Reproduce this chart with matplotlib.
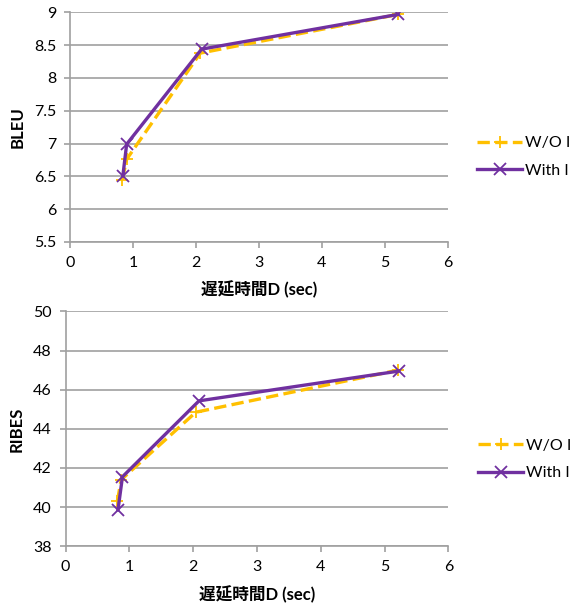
import matplotlib.pyplot as plt

plt.rcParams['font.family'] = ['Lato', 'Noto Sans CJK JP', 'DejaVu Sans']

# BLEU vs delay
bleu_wo_x = [0.83, 0.90, 2.07, 5.21]
bleu_wo_y = [6.45, 6.76, 8.38, 8.97]
bleu_w_x = [0.84, 0.90, 2.09, 5.21]
bleu_w_y = [6.51, 6.99, 8.44, 8.97]

# RIBES vs delay
ribes_wo_x = [0.81, 0.87, 2.04, 5.21]
ribes_wo_y = [40.3, 41.4, 44.85, 47.0]
ribes_w_x = [0.82, 0.89, 2.09, 5.22]
ribes_w_y = [39.86, 41.55, 45.43, 46.95]

yellow = '#FFC000'
purple = '#7030A0'
grey = '#A0A0A0'

fig = plt.figure(figsize=(5.76, 6.07), dpi=100)
ax1 = fig.add_axes([0.1215, 0.6015, 0.656, 0.378])
ax2 = fig.add_axes([0.114, 0.1000, 0.6646, 0.387])


def style(ax, ylabel, ylim, yticks, yfmt):
    ax.set_xlim(0, 6)
    ax.set_ylim(*ylim)
    ax.set_xticks(range(0, 7))
    ax.set_yticks(yticks)
    ax.set_yticklabels([yfmt(v) for v in yticks])
    ax.grid(axis='y', color=grey, linewidth=1.2)
    ax.set_axisbelow(True)
    for s in ['top', 'right']:
        ax.spines[s].set_visible(False)
    for s in ['left', 'bottom']:
        ax.spines[s].set_color(grey)
        ax.spines[s].set_linewidth(1.2)
    ax.tick_params(colors=grey, labelcolor='black', labelsize=11.5, length=4, width=1.2)
    ax.tick_params(axis='x', pad=6)
    ax.tick_params(axis='y', pad=6)
    ax.set_xlabel('遅延時間D (sec)', fontsize=12, fontweight='bold', labelpad=8)
    ax.set_ylabel(ylabel, fontsize=12, fontweight='bold', labelpad=6)
    ax.legend(loc='center left', bbox_to_anchor=(1.04, 0.37), frameon=False,
              fontsize=11.5, handlelength=2.8, handletextpad=0.2, labelspacing=0.85)


ax1.plot(bleu_wo_x, bleu_wo_y, color=yellow, linestyle='--', linewidth=2.4,
         marker='+', markersize=9, markeredgewidth=1.3, label='W/O I')
ax1.plot(bleu_w_x, bleu_w_y, color=purple, linewidth=2.4,
         marker='x', markersize=8, markeredgewidth=1.3, label='With I')
style(ax1, 'BLEU', (5.5, 9), [5.5, 6, 6.5, 7, 7.5, 8, 8.5, 9],
      lambda v: f'{v:g}')

ax2.plot(ribes_wo_x, ribes_wo_y, color=yellow, linestyle='--', linewidth=2.4,
         marker='+', markersize=9, markeredgewidth=1.3, label='W/O I')
ax2.plot(ribes_w_x, ribes_w_y, color=purple, linewidth=2.4,
         marker='x', markersize=8, markeredgewidth=1.3, label='With I')
style(ax2, 'RIBES', (38, 50), range(38, 51, 2), lambda v: f'{v}')

fig.savefig('out.png', dpi=100)
